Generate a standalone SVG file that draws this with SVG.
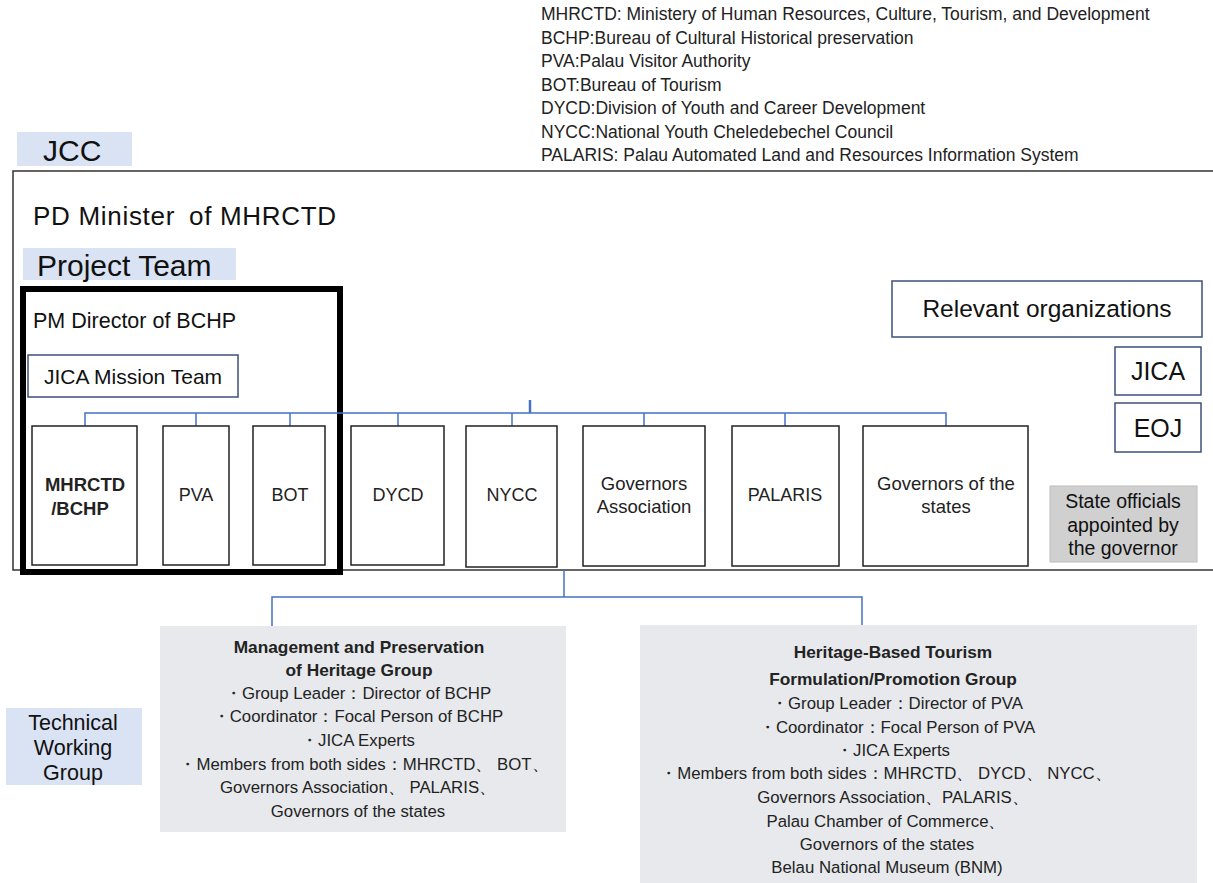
<svg xmlns="http://www.w3.org/2000/svg" width="1213" height="883" viewBox="0 0 1213 883">
<style>
.ar{font-family:"Liberation Sans",Arial,sans-serif;fill:#111}
.cb{font-family:"Liberation Sans",Arial,sans-serif;fill:#222}
.box{fill:#fff;stroke:#222;stroke-width:1.5}
.nbox{fill:#fff;stroke:#3b5078;stroke-width:1.5}
.lbl{fill:#dae3f3}
.grp{fill:#e7e9ec}
.con{fill:none;stroke:#4472c4;stroke-width:1.5}
</style>
<rect width="1213" height="883" fill="#fff"/>
<g id="legend" class="cb" font-size="17.5">
<text x="541" y="20">MHRCTD: Ministery of Human Resources, Culture, Tourism, and Development</text>
<text x="541" y="44">BCHP:Bureau of Cultural Historical preservation</text>
<text x="541" y="67">PVA:Palau Visitor Authority</text>
<text x="541" y="91">BOT:Bureau of Tourism</text>
<text x="541" y="114">DYCD:Division of Youth and Career Development</text>
<text x="541" y="138">NYCC:National Youth Cheledebechel Council</text>
<text x="541" y="161">PALARIS: Palau Automated Land and Resources Information System</text>
</g>
<g id="jcc">
<rect class="lbl" x="17" y="132" width="115" height="34"/>
<text class="ar" x="43" y="161" font-size="30">JCC</text>
<rect x="13" y="171" width="1215" height="399" fill="none" stroke="#333" stroke-width="1.5"/>
<text class="ar" x="33" y="225" font-size="26" letter-spacing="0.7">PD Minister <tspan dx="6">of MHRCTD</tspan></text>
</g>
<g id="project-team">
<rect class="lbl" x="23" y="248" width="213" height="32"/>
<text class="ar" x="37" y="276" font-size="30">Project Team</text>
<rect x="23" y="289" width="317" height="283" fill="none" stroke="#000" stroke-width="6"/>
<text class="ar" x="33" y="328" font-size="21.5">PM Director of BCHP</text>
</g>
<g id="jica-mission">
<rect class="nbox" x="28" y="355" width="210" height="42"/>
<text class="ar" x="133" y="384" font-size="21" text-anchor="middle">JICA Mission Team</text>
</g>
<g id="connectors">
<path class="con" d="M85 426V413H946V426M196 413V426M290 413V426M398 413V426M512 413V426M644 413V426M785 413V426"/>
<path d="M530 400V413" stroke="#4472c4" stroke-width="2.5"/>
<path class="con" d="M564 570V597M272 626V597H862V626"/>
</g>
<g id="n-mhrctd"><rect class="box" x="32" y="426" width="105" height="139"/>
<text class="cb" x="85" y="491" font-size="18.5" font-weight="bold" text-anchor="middle">MHRCTD</text>
<text class="cb" x="80" y="515" font-size="18.5" font-weight="bold" text-anchor="middle">/BCHP</text></g>
<g id="n-pva"><rect class="box" x="163" y="426" width="66" height="139"/>
<text class="cb" x="196" y="501" font-size="18" text-anchor="middle">PVA</text></g>
<g id="n-bot"><rect class="box" x="253" y="426" width="72" height="139"/>
<text class="cb" x="290" y="501" font-size="18" text-anchor="middle">BOT</text></g>
<g id="n-dycd"><rect class="box" x="351" y="426" width="93" height="139"/>
<text class="cb" x="398" y="501" font-size="18" text-anchor="middle">DYCD</text></g>
<g id="n-nycc"><rect class="box" x="466" y="426" width="91" height="141"/>
<text class="cb" x="512" y="501" font-size="18" text-anchor="middle">NYCC</text></g>
<g id="n-govassoc"><rect class="box" x="583" y="426" width="122" height="140"/>
<text class="cb" x="644" y="490" font-size="18.5" text-anchor="middle">Governors</text>
<text class="cb" x="644" y="513" font-size="18.5" text-anchor="middle">Association</text></g>
<g id="n-palaris"><rect class="box" x="732" y="426" width="107" height="140"/>
<text class="cb" x="785" y="501" font-size="18" text-anchor="middle">PALARIS</text></g>
<g id="n-govstates"><rect class="box" x="863" y="426" width="165" height="140"/>
<text class="cb" x="946" y="490" font-size="18.5" text-anchor="middle">Governors of the</text>
<text class="cb" x="946" y="513" font-size="18.5" text-anchor="middle">states</text></g>
<g id="relevant"><rect class="nbox" x="892" y="281" width="310" height="56"/>
<text class="ar" x="1047" y="317" font-size="24.5" text-anchor="middle">Relevant organizations</text></g>
<g id="jica"><rect class="nbox" x="1115" y="347" width="86" height="48"/>
<text class="ar" x="1158" y="380" font-size="25" text-anchor="middle">JICA</text></g>
<g id="eoj"><rect class="nbox" x="1115" y="403" width="86" height="49"/>
<text class="ar" x="1158" y="437" font-size="25" text-anchor="middle">EOJ</text></g>
<g id="state-officials"><rect x="1050" y="486" width="147" height="76" fill="#d0d0d0" stroke="#bdbdbd" stroke-width="1"/>
<g class="ar" font-size="19.5" text-anchor="middle">
<text x="1123" y="508">State officials</text>
<text x="1123" y="532">appointed by</text>
<text x="1123" y="555">the governor</text></g></g>
<g id="twg"><rect class="lbl" x="6" y="708" width="136" height="77"/>
<g class="ar" font-size="21.5" text-anchor="middle">
<text x="73" y="730">Technical</text>
<text x="73" y="755">Working</text>
<text x="73" y="780">Group</text></g></g>
<g id="group-mgmt"><rect class="grp" x="160" y="626" width="406" height="206"/>
<g class="cb" font-size="16.8" text-anchor="middle">
<text x="359" y="653" font-weight="bold" font-size="17.3">Management and Preservation</text>
<text x="359" y="676" font-weight="bold" font-size="17.3">of Heritage Group</text>
<text x="358" y="699">・Group Leader：Director of BCHP</text>
<text x="358" y="722">・Coordinator：Focal Person of BCHP</text>
<text x="358" y="746">・JICA Experts</text>
<text x="364" y="770">・Members from both sides：MHRCTD、 BOT、</text>
<text x="358" y="793">Governors Association、 PALARIS、</text>
<text x="358" y="817">Governors of the states</text></g></g>
<g id="group-tourism"><rect class="grp" x="640" y="625" width="557" height="260"/>
<g class="cb" font-size="16.8" text-anchor="middle">
<text x="893" y="658" font-weight="bold" font-size="17.3">Heritage-Based Tourism</text>
<text x="893" y="685" font-weight="bold" font-size="17.3">Formulation/Promotion Group</text>
<text x="897" y="709">・Group Leader：Director of PVA</text>
<text x="897" y="733">・Coordinator：Focal Person of PVA</text>
<text x="893" y="756">・JICA Experts</text>
<text x="886" y="779">・Members from both sides：MHRCTD、 DYCD、 NYCC、</text>
<text x="893" y="803">Governors Association、PALARIS、</text>
<text x="886" y="827">Palau Chamber of Commerce、</text>
<text x="887" y="850">Governors of the states</text>
<text x="887" y="873">Belau National Museum (BNM)</text></g></g>
</svg>
